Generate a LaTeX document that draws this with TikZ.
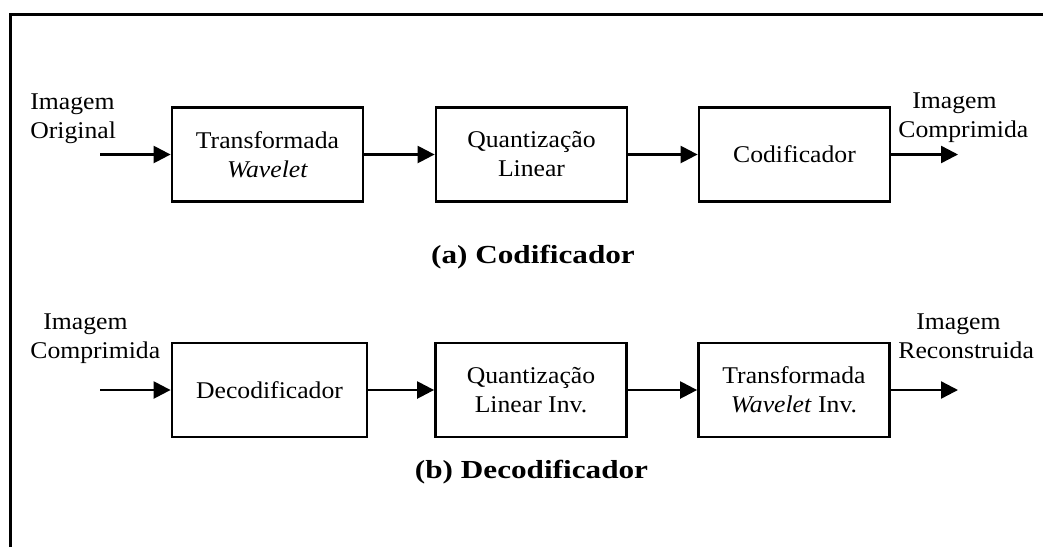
\documentclass[tikz,border=0pt]{standalone}
\usepackage{fontspec}
\setmainfont{Liberation Serif}[FakeStretch=1.07]
\newfontfamily\capfont{Liberation Serif}[FakeStretch=1.2]
\usetikzlibrary{arrows.meta}
\begin{document}
\begin{tikzpicture}[x=0.5pt,y=-0.5pt,
  txt/.style={font=\fontsize{12}{14.5}\selectfont},
  blk/.style={txt, draw, line width=1.4pt, minimum width=95.5pt, minimum height=47pt,
              inner sep=0pt, align=center},
  lbl/.style={txt, inner sep=0pt, anchor=north west, align=left},
  flow/.style={line width=1.2pt, -{Triangle[length=8.5pt,width=8.5pt]}},
  captxt/.style={inner sep=0pt, anchor=base, font=\capfont\bfseries\fontsize{13}{15}\selectfont}]
\useasboundingbox (0,0) rectangle (1043,547);

% open frame (continues past the right and bottom edges)
\draw[line width=1.5pt] (10,547) -- (10,14.5) -- (1043,14.5);

% encoder chain
\node[blk] (t1) at (267.5,154.5) {Transformada\\\textit{Wavelet}};
\node[blk] (t2) at (531.5,154.5) {Quantização\\Linear};
\node[blk] (t3) at (794.5,154.5) {Codificador};

% decoder chain
\node[blk, minimum width=97.5pt] (d1) at (269.5,390) {Decodificador};
\node[blk] (d2) at (531,390) {Quantização\\Linear Inv.};
\node[blk] (d3) at (794,390) {Transformada\\\textit{Wavelet} Inv.};

% terminal labels
\node[lbl] (lin) at (30,93) {Imagem\\Original};
\node[lbl] (lout) at (898,92) {\hspace*{7pt}Imagem\\Comprimida};
\node[lbl] (din) at (30,313) {\hspace*{6.5pt}Imagem\\Comprimida};
\node[lbl] (dout) at (898,313) {\hspace*{9pt}Imagem\\Reconstruida};

% open ends of the flow
\coordinate (tin) at (100,154.5);
\coordinate (tend) at (958,154.5);
\coordinate (din0) at (100,390);
\coordinate (dend) at (958,390);

% connectors
\draw[flow] (tin) -- (t1);
\draw[flow] (t1) -- (t2);
\draw[flow] (t2) -- (t3);
\draw[flow] (t3) -- (tend);
\draw[flow] (din0) -- (d1);
\draw[flow] (d1) -- (d2);
\draw[flow] (d2) -- (d3);
\draw[flow] (d3) -- (dend);

% captions
\node[captxt] (ca) at (533,263) {(a) Codificador};
\node[captxt] (cb) at (531.5,478) {(b) Decodificador};
\end{tikzpicture}
\end{document}
